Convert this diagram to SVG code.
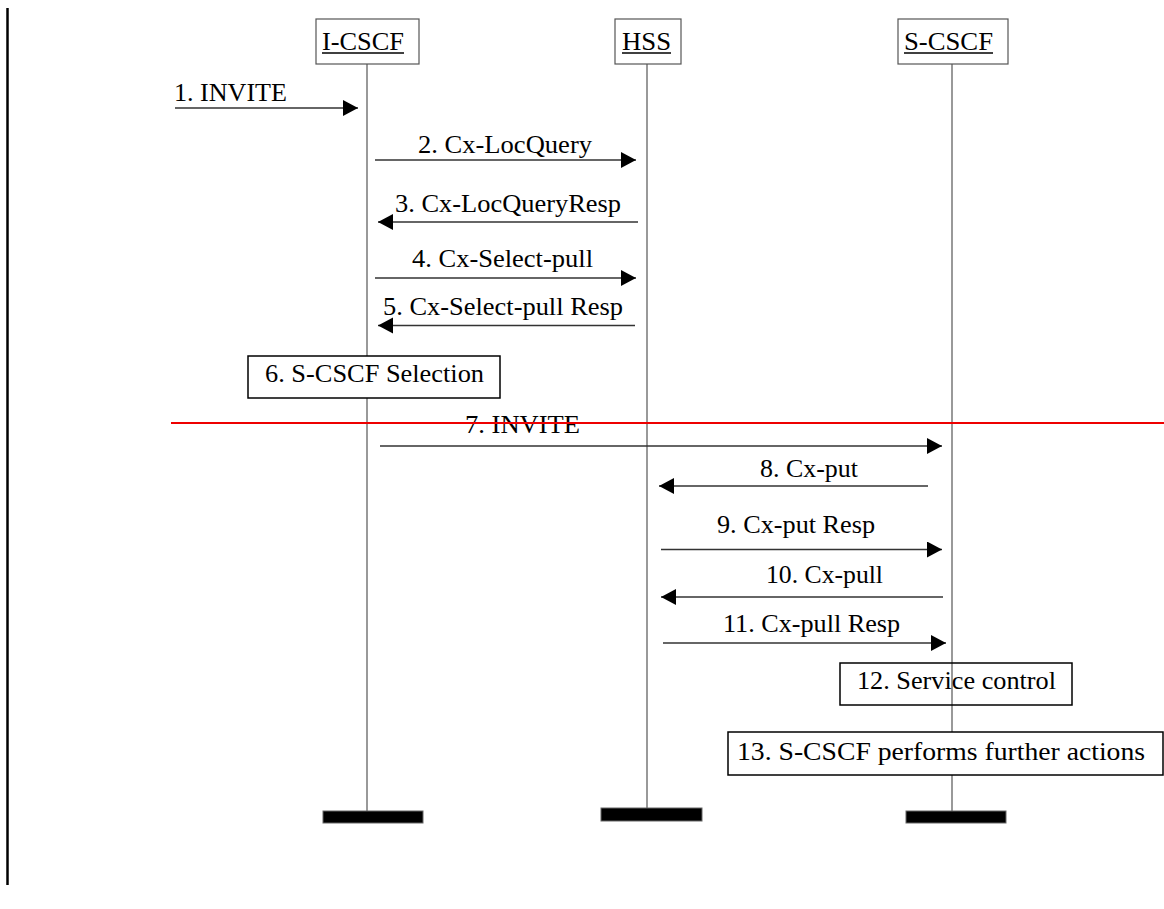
<svg xmlns="http://www.w3.org/2000/svg" width="1164" height="909" viewBox="0 0 1164 909">
<defs>
<style>
text{font-family:"Liberation Serif","Times New Roman",serif;font-size:25px;fill:#000}
.life{stroke:#555;stroke-width:1.2;fill:none}
.hdr{fill:#fff;stroke:#555;stroke-width:1.2}
.ul{stroke:#000;stroke-width:1.5}
.msg{stroke:#333;stroke-width:1.3;fill:none;marker-end:url(#ah)}
.act{fill:#fff;stroke:#000;stroke-width:1.5}
.bar{fill:#000;stroke:#666;stroke-width:1}
</style>
<marker id="ah" markerUnits="userSpaceOnUse" markerWidth="16" markerHeight="17" refX="15" refY="8" orient="auto">
<path d="M0,0 L15,8 L0,16 Z" fill="#000"/>
</marker>
</defs>
<rect width="1164" height="909" fill="#fff"/>
<line x1="7.5" y1="8" x2="7.5" y2="885" stroke="#000" stroke-width="2.5"/>

<g id="lifelines">
<line class="life" x1="367" y1="64" x2="367" y2="811"/>
<line class="life" x1="647" y1="64" x2="647" y2="808"/>
<line class="life" x1="952" y1="64" x2="952" y2="811"/>
</g>

<g id="node-icscf">
<rect class="hdr" x="316" y="19" width="103" height="45"/>
<text x="322" y="50" textLength="82" lengthAdjust="spacingAndGlyphs">I-CSCF</text>
<line class="ul" x1="322" y1="53" x2="404" y2="53"/>
<rect class="bar" x="323" y="811" width="100" height="12"/>
</g>
<g id="node-hss">
<rect class="hdr" x="615" y="19" width="66" height="45"/>
<text x="622" y="50" textLength="49" lengthAdjust="spacingAndGlyphs">HSS</text>
<line class="ul" x1="622" y1="53" x2="671" y2="53"/>
<rect class="bar" x="601" y="808" width="101" height="13"/>
</g>
<g id="node-scscf">
<rect class="hdr" x="898" y="19" width="110" height="45"/>
<text x="904" y="50" textLength="89" lengthAdjust="spacingAndGlyphs">S-CSCF</text>
<line class="ul" x1="904" y1="53" x2="993" y2="53"/>
<rect class="bar" x="906" y="811" width="100" height="12"/>
</g>

<g id="connectors">
<line class="msg" x1="175" y1="108" x2="358" y2="108"/>
<line class="msg" x1="375" y1="160" x2="636" y2="160"/>
<line class="msg" x1="638" y1="222" x2="378" y2="222"/>
<line class="msg" x1="375" y1="278" x2="636" y2="278"/>
<line class="msg" x1="635" y1="325.5" x2="378" y2="325.5"/>
<line class="msg" x1="380" y1="446" x2="942" y2="446"/>
<line class="msg" x1="928" y1="486" x2="659" y2="486"/>
<line class="msg" x1="661" y1="549.5" x2="942" y2="549.5"/>
<line class="msg" x1="943" y1="597" x2="661" y2="597"/>
<line class="msg" x1="663" y1="643" x2="946" y2="643"/>
</g>

<g id="labels">
<text x="174" y="101" textLength="113" lengthAdjust="spacingAndGlyphs">1. INVITE</text>
<text x="418" y="153" textLength="174" lengthAdjust="spacingAndGlyphs">2. Cx-LocQuery</text>
<text x="395" y="212" textLength="226" lengthAdjust="spacingAndGlyphs">3. Cx-LocQueryResp</text>
<text x="412" y="267" textLength="181" lengthAdjust="spacingAndGlyphs">4. Cx-Select-pull</text>
<text x="383" y="315" textLength="240" lengthAdjust="spacingAndGlyphs">5. Cx-Select-pull Resp</text>
<text x="465" y="433" textLength="115" lengthAdjust="spacingAndGlyphs">7. INVITE</text>
<text x="760" y="477" textLength="98" lengthAdjust="spacingAndGlyphs">8. Cx-put</text>
<text x="717" y="533" textLength="158" lengthAdjust="spacingAndGlyphs">9. Cx-put Resp</text>
<text x="766" y="583" textLength="117" lengthAdjust="spacingAndGlyphs">10. Cx-pull</text>
<text x="723" y="632" textLength="177" lengthAdjust="spacingAndGlyphs">11. Cx-pull Resp</text>
</g>

<g id="box-6">
<rect class="act" x="248" y="356" width="252" height="42"/>
<text x="265" y="382" textLength="219" lengthAdjust="spacingAndGlyphs">6. S-CSCF Selection</text>
</g>

<line id="separator" x1="171" y1="423" x2="1164" y2="423" stroke="#e00" stroke-width="2"/>

<g id="box-12">
<rect x="840" y="663" width="232" height="42" fill="none" stroke="#000" stroke-width="1.5"/>
<text x="857" y="689" textLength="199" lengthAdjust="spacingAndGlyphs">12. Service control</text>
</g>
<g id="box-13">
<rect class="act" x="728" y="732" width="435" height="43"/>
<text x="737" y="760" textLength="408" lengthAdjust="spacingAndGlyphs">13. S-CSCF performs further actions</text>
</g>
</svg>
